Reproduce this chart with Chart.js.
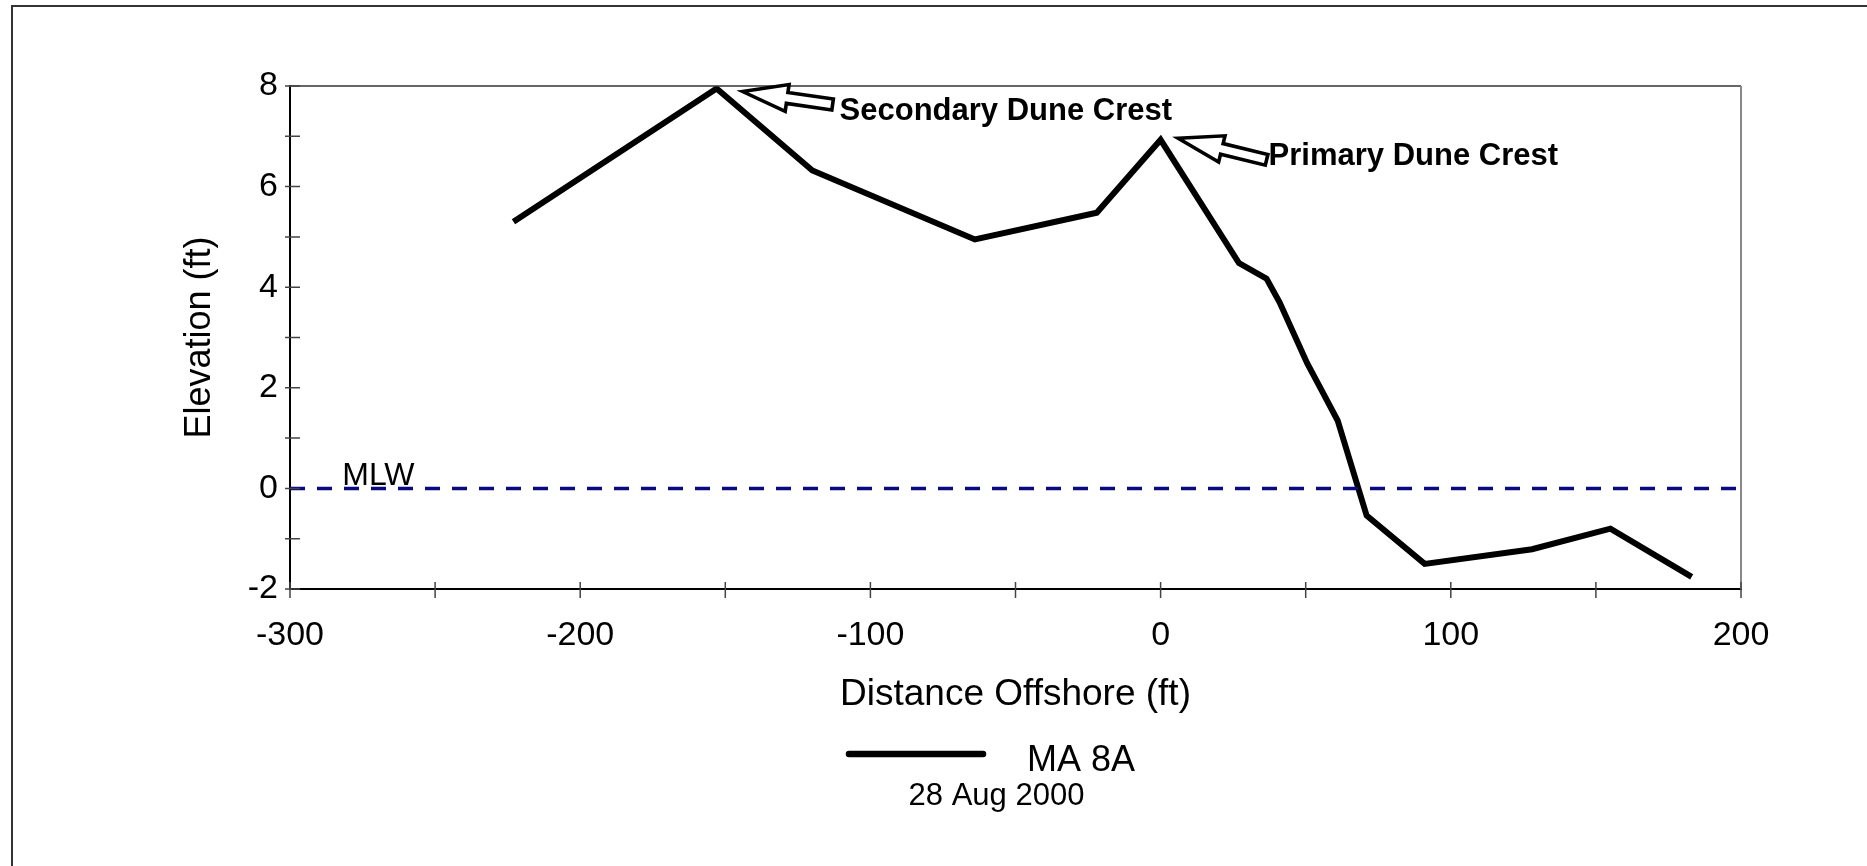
<!DOCTYPE html>
<html>
<head>
<meta charset="utf-8">
<title>MA 8A beach profile</title>
<script src="https://cdn.jsdelivr.net/npm/chart.js@4/dist/chart.umd.min.js"></script>
<style>
  html, body { margin: 0; padding: 0; background: #fff; overflow: hidden; }
  #wrap { width: 1867px; height: 866px; position: relative; }
  canvas { display: block; }
</style>
</head>
<body>
<div id="wrap"><canvas id="profile" width="1867" height="866"></canvas></div>
<script>
// Surveyed profile MA 8A: distance offshore (ft) and elevation (ft, MLW datum)
const distance  = [-223, -153, -120, -64, -22, 0, 27, 36.5, 41, 50.5, 55.5, 61, 71, 91, 128, 155, 183];
const elevation = [5.3, 7.95, 6.32, 4.95, 5.48, 6.93, 4.48, 4.17, 3.7, 2.49, 1.95, 1.35, -0.54, -1.5, -1.21, -0.8, -1.76];

// Mean low water reference line
const mlwDistance  = [-300, 200];
const mlwElevation = [0, 0];

// Labelled tick values
const xTickLabels = [-300, -200, -100, 0, 100, 200];
const yTickLabels = [-2, 0, 2, 4, 6, 8];

// Text
const seriesName = 'MA 8A';
const surveyDate = '28 Aug 2000';
const mlwLabel = 'MLW';
const crestNames = ['Secondary Dune Crest', 'Primary Dune Crest'];
const crestIndex = [1, 5];

const FONT = '"Liberation Sans", Arial, sans-serif';

const toPoints = (xs, ys) => xs.map((x, i) => ({ x: x, y: ys[i] }));

// Outer frame, plot frame and crossing tick marks
const framePlugin = {
  id: 'frame',
  beforeDraw(chart) {
    const ctx = chart.ctx;
    ctx.save();
    ctx.fillStyle = '#fff';
    ctx.fillRect(0, 0, chart.width, chart.height);
    ctx.strokeStyle = '#333';
    ctx.lineWidth = 2;
    ctx.beginPath();
    ctx.moveTo(12, chart.height + 2);
    ctx.lineTo(12, 6);
    ctx.lineTo(chart.width + 2, 6);
    ctx.stroke();
    ctx.restore();
  },
  afterDraw(chart) {
    const ctx = chart.ctx;
    const a = chart.chartArea;
    const xs = chart.scales.x, ys = chart.scales.y;
    ctx.save();
    // top and right edge of the plot
    ctx.lineWidth = 1.5;
    ctx.strokeStyle = '#333';
    ctx.beginPath();
    ctx.moveTo(a.left, a.top);
    ctx.lineTo(a.right, a.top);
    ctx.stroke();
    ctx.strokeStyle = '#888';
    ctx.lineWidth = 2;
    ctx.beginPath();
    ctx.moveTo(a.right, a.top);
    ctx.lineTo(a.right, a.bottom);
    ctx.stroke();
    // tick marks crossing the axes
    ctx.strokeStyle = '#444';
    ctx.lineWidth = 1.5;
    ctx.beginPath();
    ys.ticks.forEach(t => {
      const py = ys.getPixelForValue(t.value);
      ctx.moveTo(a.left - 5, py);
      ctx.lineTo(a.left + 10, py);
    });
    xs.ticks.forEach(t => {
      const px = xs.getPixelForValue(t.value);
      ctx.moveTo(px, a.bottom - 7);
      ctx.lineTo(px, a.bottom + 9);
    });
    ctx.stroke();
    ctx.restore();
  }
};

// Hollow block arrow drawn from its tail to its tip
function blockArrow(ctx, tailX, tailY, tipX, tipY) {
  const dx = tailX - tipX, dy = tailY - tipY;
  const len = Math.hypot(dx, dy);
  const ang = Math.atan2(dy, dx);
  const head = 45, hw = 13.5, sw = 5.5;
  ctx.save();
  ctx.translate(tipX, tipY);
  ctx.rotate(ang);
  ctx.beginPath();
  ctx.moveTo(0, 0);
  ctx.lineTo(head, -hw);
  ctx.lineTo(head, -sw);
  ctx.lineTo(len, -sw);
  ctx.lineTo(len, sw);
  ctx.lineTo(head, sw);
  ctx.lineTo(head, hw);
  ctx.closePath();
  ctx.fillStyle = '#fff';
  ctx.fill();
  ctx.lineWidth = 3.6;
  ctx.lineJoin = 'miter';
  ctx.strokeStyle = '#000';
  ctx.stroke();
  ctx.restore();
}

// Crest call-outs, MLW label, legend and date
const notesPlugin = {
  id: 'notes',
  afterDraw(chart) {
    const ctx = chart.ctx;
    const xs = chart.scales.x, ys = chart.scales.y;
    ctx.save();

    // arrow / text offsets from each crest point (px)
    const arrowTip  = [[26, 3], [17.5, -1.5]];
    const arrowTail = [[116, 16], [106, 20]];
    const textAt    = [[123, 31], [108, 25]];
    crestIndex.forEach((idx, k) => {
      const px = xs.getPixelForValue(distance[idx]);
      const py = ys.getPixelForValue(elevation[idx]);
      blockArrow(ctx, px + arrowTail[k][0], py + arrowTail[k][1], px + arrowTip[k][0], py + arrowTip[k][1]);
      ctx.fillStyle = '#000';
      ctx.font = 'bold 31px ' + FONT;
      ctx.textAlign = 'left';
      ctx.textBaseline = 'alphabetic';
      ctx.fillText(crestNames[k], px + textAt[k][0], py + textAt[k][1]);
    });

    // MLW label just above the datum line
    ctx.font = '32px "Liberation Sans Narrow", ' + FONT;
    ctx.fillStyle = '#000';
    ctx.textAlign = 'left';
    ctx.fillText(mlwLabel, xs.getPixelForValue(-282), ys.getPixelForValue(0) - 3);

    // legend
    const ds = chart.data.datasets[1];
    ctx.strokeStyle = ds.borderColor;
    ctx.lineWidth = 6.5;
    ctx.lineCap = 'round';
    ctx.beginPath();
    ctx.moveTo(849, 754);
    ctx.lineTo(983, 754);
    ctx.stroke();
    ctx.font = '36px ' + FONT;
    ctx.fillText(ds.label, 1027, 771);
    ctx.font = '31px ' + FONT;
    ctx.textAlign = 'center';
    ctx.fillText(surveyDate, 996.5, 805);
    ctx.restore();
  }
};

new Chart(document.getElementById('profile'), {
  type: 'line',
  data: {
    datasets: [
      {
        label: mlwLabel,
        data: toPoints(mlwDistance, mlwElevation),
        borderColor: '#0a0a80',
        borderWidth: 3.5,
        borderDash: [15, 12],
        pointRadius: 0,
        fill: false,
        order: 0
      },
      {
        label: seriesName,
        data: toPoints(distance, elevation),
        borderColor: '#000',
        borderWidth: 6,
        borderJoinStyle: 'miter',
        pointRadius: 0,
        tension: 0,
        fill: false,
        order: 1
      }
    ]
  },
  options: {
    responsive: false,
    animation: false,
    devicePixelRatio: 1,
    layout: { padding: { top: 86, right: 126, bottom: 0, left: 0 } },
    plugins: {
      legend: { display: false },
      tooltip: { enabled: false }
    },
    scales: {
      x: {
        type: 'linear',
        min: -300,
        max: 200,
        grid: { display: false, drawTicks: false },
        border: { display: true, color: '#000', width: 2 },
        ticks: {
          stepSize: 50,
          autoSkip: false,
          maxRotation: 0,
          padding: 26,
          color: '#000',
          font: { family: FONT, size: 34 },
          callback: v => xTickLabels.includes(v) ? String(v) : ''
        },
        title: {
          display: true,
          text: 'Distance Offshore (ft)',
          color: '#000',
          font: { family: FONT, size: 37 },
          padding: { top: 0, bottom: 149 }
        },
        afterFit: s => { s.height = 277; }
      },
      y: {
        type: 'linear',
        min: -2,
        max: 8,
        grid: { display: false, drawTicks: false },
        border: { display: true, color: '#000', width: 2 },
        ticks: {
          stepSize: 1,
          autoSkip: false,
          padding: 12,
          color: '#000',
          font: { family: FONT, size: 34 },
          callback: v => yTickLabels.includes(v) ? String(v) : ''
        },
        title: {
          display: true,
          text: 'Elevation (ft)',
          color: '#000',
          font: { family: FONT, size: 36 },
          padding: { top: 178, bottom: 0 }
        },
        afterFit: s => { s.width = 290; }
      }
    }
  },
  plugins: [framePlugin, notesPlugin]
});
</script>
</body>
</html>
